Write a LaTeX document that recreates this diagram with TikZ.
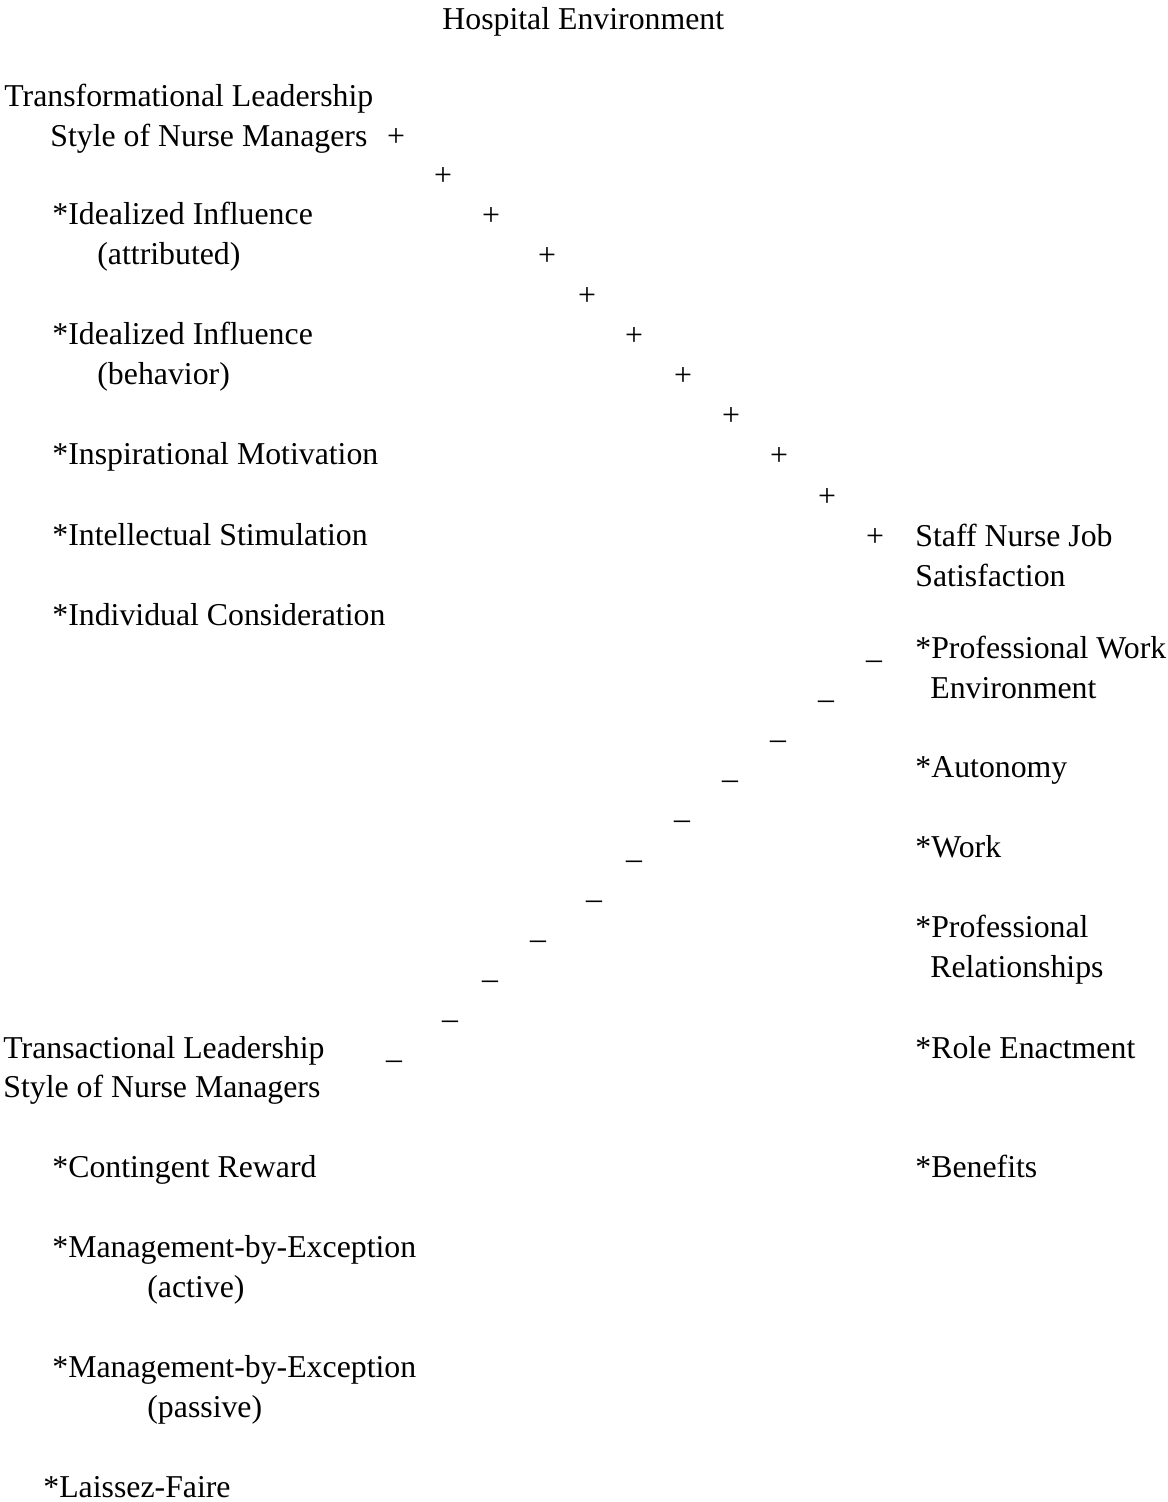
\documentclass[tikz,border=0pt]{standalone}
\usepackage{fontspec}
\setmainfont{Liberation Serif}
\usepackage{tikz}

\tikzset{
  lbl/.style={anchor=base west, inner sep=0pt, font=\fontsize{15.9}{19}\selectfont},
  sign/.style={anchor=base, inner sep=0pt, font=\fontsize{15.9}{19}\selectfont}
}

\begin{document}
\begin{tikzpicture}[x=0.5pt,y=-0.5pt]
\useasboundingbox (0,0) rectangle (1167,1502);
\node[lbl] (env) at (442,30) {Hospital Environment};
% transformational side
\node[lbl] (tf1) at (4,107) {Transformational Leadership};
\node[lbl] (tf2) at (50,147) {Style of Nurse Managers};
\node[lbl] (iia) at (52,225) {*Idealized Influence};
\node[lbl] (iia2) at (97,265) {(attributed)};
\node[lbl] (iib) at (52,345) {*Idealized Influence};
\node[lbl] (iib2) at (97,385) {(behavior)};
\node[lbl] (im) at (52,465) {*Inspirational Motivation};
\node[lbl] (is) at (52,545) {*Intellectual Stimulation};
\node[lbl] (ic) at (52,625) {*Individual Consideration};
% job satisfaction side
\node[lbl] (js1) at (915,546) {Staff Nurse Job};
\node[lbl] (js2) at (915,586) {Satisfaction};
\node[lbl] (pw1) at (915,658) {*Professional Work};
\node[lbl] (pw2) at (930,698) {Environment};
\node[lbl] (au) at (915,777) {*Autonomy};
\node[lbl] (wk) at (915,857) {*Work};
\node[lbl] (pr1) at (915,937) {*Professional};
\node[lbl] (pr2) at (930,977) {Relationships};
\node[lbl] (re) at (915,1058) {*Role Enactment};
\node[lbl] (bn) at (915,1177) {*Benefits};
% transactional side
\node[lbl] (ta1) at (3,1058) {Transactional Leadership};
\node[lbl] (ta2) at (3,1097) {Style of Nurse Managers};
\node[lbl] (cr) at (52,1177) {*Contingent Reward};
\node[lbl] (mea) at (52,1257) {*Management-by-Exception};
\node[lbl] (mea2) at (147,1297) {(active)};
\node[lbl] (mep) at (52,1377) {*Management-by-Exception};
\node[lbl] (mep2) at (147,1417) {(passive)};
\node[lbl] (lf) at (43,1497) {*Laissez-Faire};
% signs
\foreach \x/\y [count=\i] in {396/147,443/186,491/226,547/266,587/306,634/346,683/386,731/426,779/466,827/506,875/546}
  \node[sign] (plus\i) at (\x,\y) {+};
\foreach \x/\y [count=\i] in {874/658,826/698,778/738,730/778,682/818,634/858,594/898,538/938,490/978,450/1018,394/1058}
  \node[sign] (minus\i) at (\x,\y) {\_};
\end{tikzpicture}
\end{document}
